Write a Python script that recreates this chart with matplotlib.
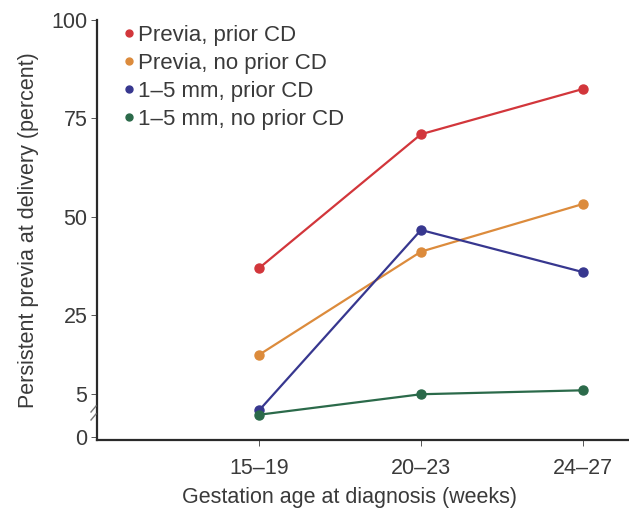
import numpy as np
import matplotlib
matplotlib.use('Agg')
import matplotlib.pyplot as plt
from matplotlib.lines import Line2D

plt.rcParams['font.family'] = ['Liberation Sans', 'DejaVu Sans']

weeks = ['15–19', '20–23', '24–27']
previa_prior_cd = [37, 71, 82.5]
previa_no_prior_cd = [15, 41.2, 53.3]
mm_prior_cd = [3.1, 46.7, 36]
mm_no_prior_cd = [2.6, 5, 6]

series = [
    ('Previa, prior CD', previa_prior_cd, '#d2363b'),
    ('Previa, no prior CD', previa_no_prior_cd, '#dc8b3c'),
    ('1–5 mm, prior CD', mm_prior_cd, '#37378f'),
    ('1–5 mm, no prior CD', mm_no_prior_cd, '#2b6a4a'),
]

# broken axis: the 0-5 band is stretched
K = 2.17


def fwd(v):
    v = np.asarray(v, dtype=float)
    return np.where(v >= 5, v, 5 - (5 - v) * K)


def inv(u):
    u = np.asarray(u, dtype=float)
    return np.where(u >= 5, u, 5 - (5 - u) / K)


W, H = 629, 513
text_color = '#3a3a3a'
fs = 15.5
fig = plt.figure(figsize=(W / 100, H / 100), dpi=100)
ax = fig.add_axes([97 / W, 1 - 440 / H, 1 - 97 / W, 420 / H])
ax.set_yscale('function', functions=(fwd, inv))

x = np.arange(1, len(weeks) + 1)
for label, vals, color in series:
    ax.plot(x, vals, color=color, lw=1.6, marker='o', ms=6.5, label=label,
            clip_on=False, zorder=3)

ax.set_xlim(0, 532 / 162)
ax.set_ylim(inv(5 - 46 / 3.96), 100)
ax.set_xticks(x)
ax.set_xticklabels(weeks)
ax.set_yticks([0, 5, 25, 50, 75, 100])
ax.set_yticklabels(['0', '5', '25', '50', '75', '100'])

for s in ['top', 'right']:
    ax.spines[s].set_visible(False)
for s in ['left', 'bottom']:
    ax.spines[s].set_linewidth(1.6)
    ax.spines[s].set_color('#2a2a2a')

ax.tick_params(axis='both', labelsize=fs, colors=text_color, length=4,
               width=0.6, direction='out', pad=3)
ax.tick_params(axis='x', pad=9)

ax.set_xlabel('Gestation age at diagnosis (weeks)', fontsize=fs,
              color=text_color)
ax.xaxis.set_label_coords((350 - 97) / 532, -0.113)
ax.xaxis.label.set_verticalalignment('top')
ax.set_ylabel('Persistent previa at delivery (percent)', fontsize=fs,
              color=text_color, labelpad=9)

# break marks on the y-axis (figure pixel coordinates)
for yp in [409, 417]:
    fig.add_artist(Line2D([91 / W, 96 / W],
                          [1 - (yp + 3) / H, 1 - (yp - 3) / H],
                          color='#777777', lw=1.0))

leg = ax.legend(loc='upper left', bbox_to_anchor=(0.027, 1.02), frameon=False,
                fontsize=16, handlelength=0.35, handletextpad=0.25,
                labelspacing=0.32, borderaxespad=0.2)
for h in leg.legend_handles:
    h.set_linestyle('none')
    h.set_markersize(5)
for t in leg.get_texts():
    t.set_color(text_color)

fig.savefig('out.png', dpi=100)
